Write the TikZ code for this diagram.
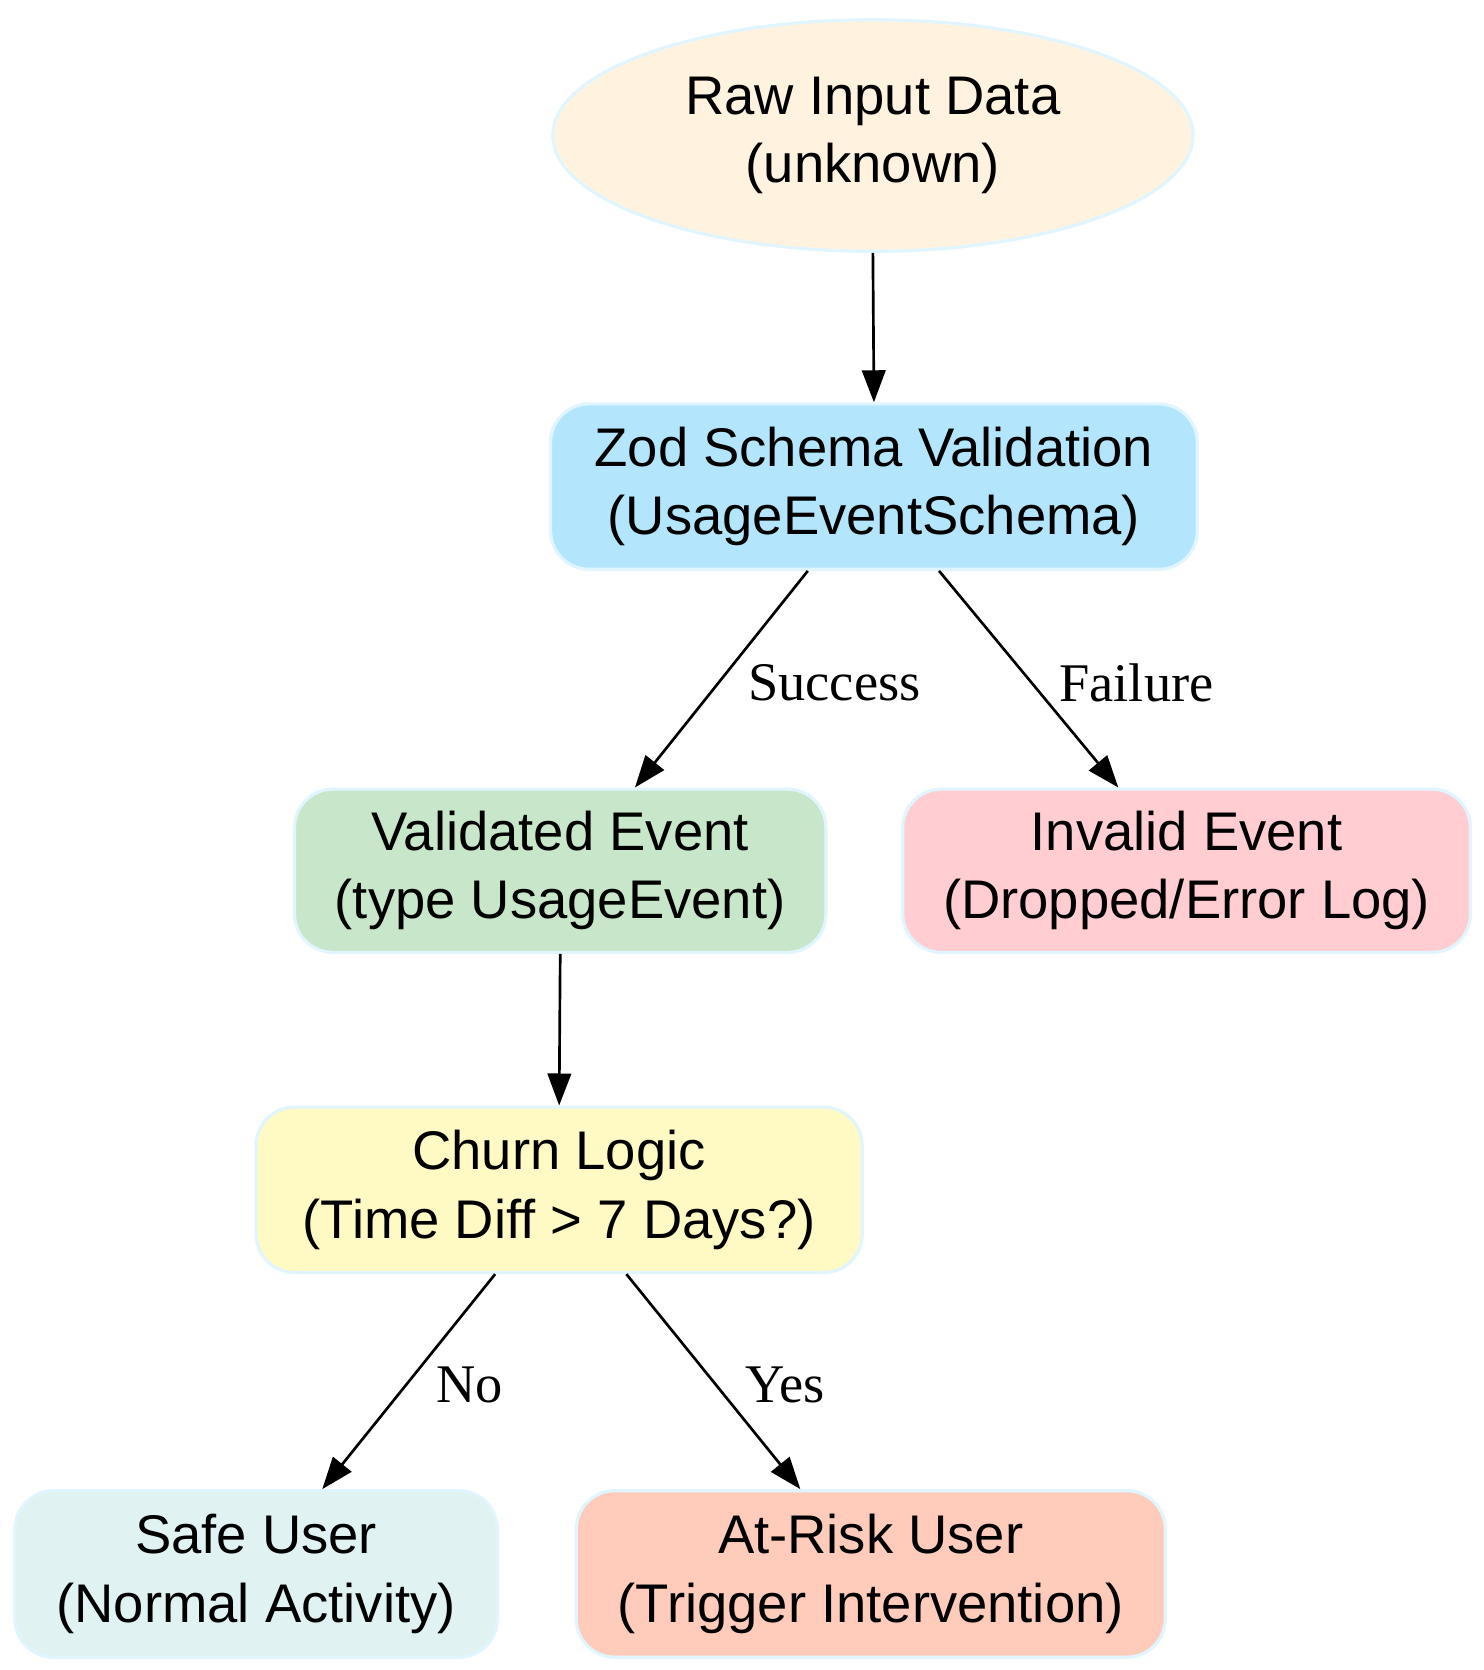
\documentclass[tikz,border=0pt]{standalone}
\usepackage{fontspec}
\setmainfont{Liberation Sans}
\newfontfamily\lblfont{Liberation Serif}
\usetikzlibrary{shapes.geometric,arrows.meta}
\definecolor{bord}{HTML}{E1F5FE}
\definecolor{craw}{HTML}{FFF3E0}
\definecolor{czod}{HTML}{B3E5FC}
\definecolor{cval}{HTML}{C8E6C9}
\definecolor{cinv}{HTML}{FFCDD2}
\definecolor{cchu}{HTML}{FFF9C4}
\definecolor{csafe}{HTML}{E0F2F1}
\definecolor{crisk}{HTML}{FFCCBC}
\tikzset{
 box/.style={draw=bord,line width=3pt,rounded corners=36pt,align=center,font=\fontsize{51}{64}\selectfont,inner sep=0pt},
 arr/.style={line width=2.5pt,-{Triangle[length=30pt,width=22pt]}},
 lbl/.style={font=\lblfont\fontsize{51}{60}\selectfont}
}
\begin{document}
\begin{tikzpicture}[x=1pt,y=-1pt]
\useasboundingbox (0,0) rectangle (1390,1565);
\node[ellipse,draw=bord,line width=3pt,fill=craw,minimum width=600pt,minimum height=217pt,align=center,font=\fontsize{51}{64}\selectfont,inner sep=0pt] (raw) at (818,127) {Raw Input Data\\(unknown)};
\node[box,fill=czod,minimum width=606pt,minimum height=155pt] (zod) at (819,456) {Zod Schema Validation\\(UsageEventSchema)};
\node[box,fill=cval,minimum width=498pt,minimum height=153pt] (val) at (525,816) {Validated Event\\(type UsageEvent)};
\node[box,fill=cinv,minimum width=532pt,minimum height=153pt] (inv) at (1112,816) {Invalid Event\\(Dropped/Error Log)};
\node[box,fill=cchu,minimum width=568pt,minimum height=155pt] (chu) at (524,1115) {Churn Logic\\(Time Diff > 7 Days?)};
\node[box,fill=csafe,minimum width=452pt,minimum height=156pt] (safe) at (240,1475) {Safe User\\(Normal Activity)};
\node[box,fill=crisk,minimum width=552pt,minimum height=156pt] (risk) at (816,1475) {At-Risk User\\(Trigger Intervention)};
\draw[arr] (raw.south) -- (zod.north);
\coordinate (lS) at (782,640);
\coordinate (lF) at (1065,640);
\coordinate (lN) at (440,1298);
\coordinate (lY) at (736,1298);
\draw[arr] (zod.south -| 757,0) -- (val.north -| 595,0);
\draw[arr] (zod.south -| 880,0) -- (inv.north -| 1048,0);
\draw[arr] (val.south) -- (chu.north);
\draw[arr] (chu.south -| 464,0) -- (safe.north -| 302,0);
\draw[arr] (chu.south -| 587,0) -- (risk.north -| 750,0);
\node[lbl] (tS) at (lS) {Success};
\node[lbl] (tF) at (lF) {Failure};
\node[lbl] (tN) at (lN) {No};
\node[lbl] (tY) at (lY) {Yes};
\end{tikzpicture}
\end{document}
